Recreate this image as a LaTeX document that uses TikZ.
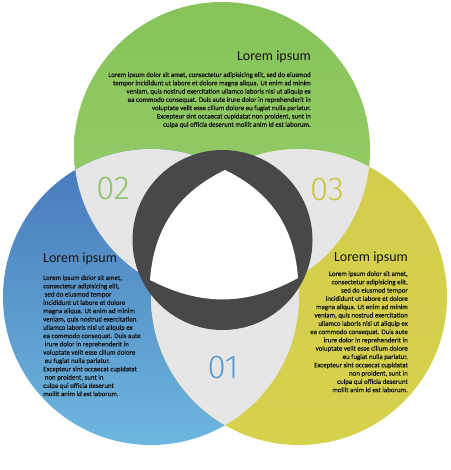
\documentclass[tikz,border=0pt]{standalone}
\usepackage{fontspec}
\setmainfont{Carlito}
\newfontfamily\numfont{Fira Sans Light}
\newfontfamily\bodyfont{Carlito}[FakeBold=0.6]
\definecolor{greentop}{HTML}{86C35A}
\definecolor{greenbot}{HTML}{9AD06C}
\definecolor{bluetop}{HTML}{4677BA}
\definecolor{bluebot}{HTML}{6DB7DE}
\definecolor{yellowtop}{HTML}{D2CE4B}
\definecolor{yellowbot}{HTML}{D6D24E}
\definecolor{lensgrey}{HTML}{E6E6E6}
\definecolor{ringgrey}{HTML}{48484B}
\definecolor{bodytext}{HTML}{141414}
\definecolor{numgreen}{HTML}{8CC663}
\definecolor{numyellow}{HTML}{C9C53C}
\definecolor{numblue}{HTML}{5A9AD0}
\tikzset{
  head/.style={inner sep=0pt, text=bodytext, font=\fontsize{14}{16}\selectfont},
  body/.style={inner sep=0pt, text=bodytext, font=\bodyfont\fontsize{6.9}{8.3}\selectfont},
  num/.style={inner sep=0pt, font=\numfont\fontsize{33}{33}\selectfont}
}
\begin{document}
\begin{tikzpicture}[x=1pt,y=-1pt]
  \useasboundingbox (0,0) rectangle (450,470);
  \coordinate (top) at (222,150);
  \coordinate (left) at (151,297);
  \coordinate (right) at (299,297);
  \coordinate (hub) at (222.5,240);

  \shade[top color=greentop, bottom color=greenbot] (top) circle[radius=148pt];
  \shade[top color=bluetop, bottom color=bluebot] (left) circle[radius=148pt];
  \shade[top color=yellowtop, bottom color=yellowbot] (right) circle[radius=148pt];

  \begin{scope}
    \clip (top) circle[radius=148pt];
    \fill[lensgrey] (left) circle[radius=148pt];
    \fill[lensgrey] (right) circle[radius=148pt];
  \end{scope}
  \begin{scope}
    \clip (left) circle[radius=148pt];
    \fill[lensgrey] (right) circle[radius=148pt];
  \end{scope}

  \fill[ringgrey] (hub) circle[radius=90pt];
  \coordinate (t) at (225,170);
  \coordinate (l) at (150,280);
  \coordinate (r) at (298,278);
  \fill[white] (t) to[bend right=30] (l) to[bend right=28] (r) to[bend right=30] (t);

  \node[num, text=numgreen] (n2) at (113,189) {02};
  \node[num, text=numyellow] (n3) at (327,190) {03};
  \node[num, text=numblue] (n1) at (223,368) {01};

  \node[head, anchor=base east] (h2) at (311,61) {Lorem ipsum};
  \node[body, align=right, anchor=north east] (b2) at (311,72) {Lorem ipsum dolor sit amet, consectetur adipisicing elit, sed do eiusmod\\
    tempor incididunt ut labore et dolore magna aliqua. Ut enim ad minim\\
    veniam, quis nostrud exercitation ullamco laboris nisi ut aliquip ex\\
    ea commodo consequat. Duis aute irure dolor in reprehenderit in\\
    voluptate velit esse cillum dolore eu fugiat nulla pariatur.\\
    Excepteur sint occaecat cupidatat non proident, sunt in\\
    culpa qui officia deserunt mollit anim id est laborum.};

  \node[head, anchor=base west] (h1) at (43,262) {Lorem ipsum};
  \node[body, align=left, anchor=north west] (b1) at (43,275) {Lorem ipsum dolor sit amet,\\
    consectetur adipisicing elit,\\
    \ sed do eiusmod tempor\\
    incididunt ut labore et dolore\\
    magna aliqua. Ut enim ad minim\\
    veniam, quis nostrud exercitation\\
    ullamco laboris nisi ut aliquip ex\\
    ea commodo consequat. Duis aute\\
    \ irure dolor in reprehenderit in\\
    voluptate velit esse cillum dolore\\
    \ eu fugiat nulla pariatur.\\
    Excepteur sint occaecat cupidatat\\
    \ non proident, sunt in\\
    culpa qui officia deserunt\\
    mollit anim id est laborum.};

  \node[head, anchor=base east] (h3) at (408,261) {Lorem ipsum};
  \node[body, align=right, anchor=north east] (b3) at (408,271) {Lorem ipsum dolor sit amet,\\
    consectetur adipisicing elit,\\
    sed do eiusmod tempor\\
    incididunt ut labore et dolore\\
    magna aliqua. Ut enim ad minim\\
    veniam, quis nostrud exercitation\\
    ullamco laboris nisi ut aliquip ex\\
    ea commodo consequat. Duis aute\\
    irure dolor in reprehenderit in\\
    voluptate velit esse cillum dolore\\
    eu fugiat nulla pariatur.\\
    Excepteur sint occaecat cupidatat\\
    non proident, sunt in\\
    culpa qui officia deserunt\\
    mollit anim id est laborum.};
\end{tikzpicture}
\end{document}
